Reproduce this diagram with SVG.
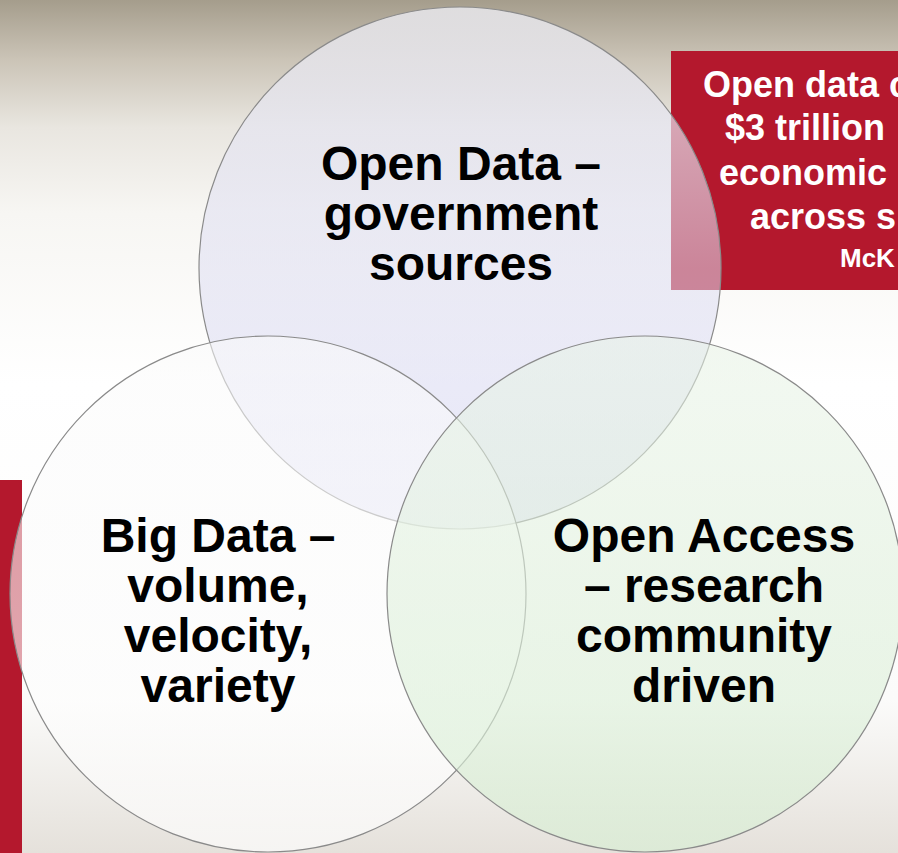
<svg xmlns="http://www.w3.org/2000/svg" width="898" height="853" viewBox="0 0 898 853">
<defs>
<linearGradient id="bg" x1="0" y1="0" x2="0" y2="853" gradientUnits="userSpaceOnUse">
<stop offset="0" stop-color="#a59d8c"/>
<stop offset="0.07" stop-color="#cbc4b7"/>
<stop offset="0.15" stop-color="#e9e6e0"/>
<stop offset="0.25" stop-color="#f7f6f3"/>
<stop offset="0.45" stop-color="#ffffff"/>
<stop offset="0.82" stop-color="#fbfbfa"/>
<stop offset="1" stop-color="#e5e1db"/>
</linearGradient>
<linearGradient id="gTop" x1="0" y1="0" x2="0" y2="1">
<stop offset="0" stop-color="#ececf2" stop-opacity="0.8"/>
<stop offset="0.5" stop-color="#dedef2" stop-opacity="0.55"/>
<stop offset="1" stop-color="#d6d6f2" stop-opacity="0.6"/>
</linearGradient>
<linearGradient id="gLeft" x1="0" y1="0" x2="0" y2="1">
<stop offset="0" stop-color="#fafafa" stop-opacity="0.55"/>
<stop offset="1" stop-color="#ffffff" stop-opacity="0.65"/>
</linearGradient>
<linearGradient id="gRight" x1="0" y1="0" x2="0" y2="1">
<stop offset="0" stop-color="#e8f3e6" stop-opacity="0.55"/>
<stop offset="1" stop-color="#d8efd4" stop-opacity="0.65"/>
</linearGradient>
<style>
.circ{stroke:#8a8a8a;stroke-width:1.2}
.lbl{font-family:"Liberation Sans",Arial,sans-serif;font-weight:bold;font-size:48px;fill:#000;text-anchor:middle}
.box{font-family:"Liberation Sans",Arial,sans-serif;font-weight:bold;font-size:36px;fill:#fff}
.red{fill:#b4182d}
</style>
</defs>
<rect x="0" y="0" width="898" height="853" fill="url(#bg)"/>
<g id="quote-box">
<rect class="red" x="671" y="51" width="227" height="239"/>
</g>
<g id="left-bar">
<rect class="red" x="0" y="480" width="22" height="373"/>
</g>
<g id="open-data">
<circle class="circ" cx="460" cy="268" r="261" fill="url(#gTop)"/>
</g>
<g id="big-data">
<circle class="circ" cx="268" cy="594" r="258" fill="url(#gLeft)"/>
</g>
<g id="open-access">
<circle class="circ" cx="645" cy="594" r="258" fill="url(#gRight)"/>
</g>
<g id="labels">
<text class="lbl" x="461" y="180">Open Data –</text>
<text class="lbl" x="461" y="230">government</text>
<text class="lbl" x="461" y="280">sources</text>
<text class="lbl" x="218" y="552">Big Data –</text>
<text class="lbl" x="218" y="602">volume,</text>
<text class="lbl" x="218" y="652">velocity,</text>
<text class="lbl" x="218" y="702">variety</text>
<text class="lbl" x="704" y="552">Open Access</text>
<text class="lbl" x="704" y="602">– research</text>
<text class="lbl" x="704" y="652">community</text>
<text class="lbl" x="704" y="702">driven</text>
</g>
<g id="quote-text">
<text class="box" x="703" y="97">Open data c</text>
<text class="box" x="725" y="140">$3 trillion</text>
<text class="box" x="719" y="185">economic</text>
<text class="box" x="750" y="229">across s</text>
<text class="box" x="840" y="267" style="font-size:26px">McK</text>
</g>
</svg>
